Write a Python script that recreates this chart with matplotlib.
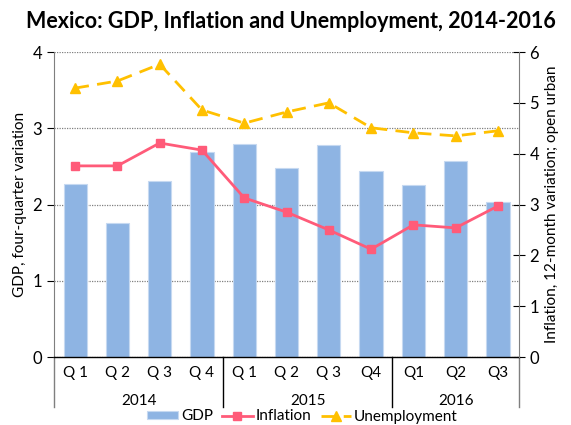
import matplotlib
matplotlib.use("Agg")
import matplotlib.pyplot as plt
import numpy as np

quarters = ["Q 1", "Q 2", "Q 3", "Q 4", "Q 1", "Q 2", "Q 3", "Q4", "Q1", "Q2", "Q3"]
years = ["2014", "2015", "2016"]
year_sizes = [4, 4, 3]
gdp = [2.27, 1.76, 2.31, 2.69, 2.79, 2.48, 2.78, 2.44, 2.26, 2.57, 2.03]
inflation = [3.76, 3.76, 4.21, 4.07, 3.13, 2.85, 2.50, 2.12, 2.60, 2.54, 2.97]
unemployment = [5.29, 5.43, 5.76, 4.86, 4.60, 4.82, 5.00, 4.51, 4.41, 4.35, 4.45]

plt.rcParams["font.family"] = ["Lato", "DejaVu Sans"]

fig = plt.figure(figsize=(5.71, 4.25), dpi=100)
ax = fig.add_axes([0.0946, 0.16, 0.8144, 0.7176])
ax2 = ax.twinx()

x = np.arange(len(quarters))
bars = ax.bar(x, gdp, width=0.55, color="#8EB4E3", edgecolor="#C6D9F1", linewidth=0.8,
              label="GDP", zorder=2)
ax.set_ylim(0, 4)
ax.set_xlim(-0.5, len(quarters) - 0.5)
ax.set_yticks([0, 1, 2, 3, 4])
ax.yaxis.grid(True, linestyle=(0, (1, 1)), color="#808080", linewidth=0.9, zorder=0)
ax.set_axisbelow(True)

l1, = ax2.plot(x, inflation, color="#FF5B79", marker="s", markersize=6, linewidth=2,
               label="Inflation", zorder=3)
l2, = ax2.plot(x, unemployment, color="#FFC000", marker="^", markersize=7, linewidth=2,
               dashes=(5, 3), label="Unemployment", zorder=3)
ax2.set_ylim(0, 6)
ax2.set_yticks([0, 1, 2, 3, 4, 5, 6])

for a in (ax, ax2):
    a.spines["top"].set_visible(False)
    a.spines["bottom"].set_visible(False)
ax.spines["right"].set_visible(False)
ax.spines["left"].set_color("#7F7F7F")
ax2.spines["left"].set_visible(False)
ax2.spines["right"].set_color("#7F7F7F")
ax.tick_params(axis="y", direction="out", length=5, color="#000000", labelsize=12)
ax2.tick_params(axis="y", direction="inout", length=8, color="#000000", labelsize=12)
ax.tick_params(axis="x", length=0, labelbottom=False)

ax.set_ylabel("GDP, four-quarter variation", fontsize=11)
ax2.set_ylabel("Inflation, 12-month variation; open urban", fontsize=11)

# category axis with two levels
trans = ax.get_xaxis_transform()
ax.plot([-0.5, len(quarters) - 0.5], [0, 0], color="#000000", lw=1, transform=trans,
        clip_on=False, zorder=4)
for xi, q in zip(x, quarters):
    ax.text(xi, -0.052, q, transform=trans, ha="center", va="center", fontsize=11)
start = 0
bounds = [-0.5]
for yr, n in zip(years, year_sizes):
    ax.text(start + (n - 1) / 2, -0.145, yr, transform=trans, ha="center", va="center",
            fontsize=11)
    start += n
    bounds.append(start - 0.5)
for i, b in enumerate(bounds):
    ax.plot([b, b], [0, -0.165], color="#000000" if 0 < i < len(bounds) - 1 else "#7F7F7F",
            lw=1, transform=trans, clip_on=False)

fig.legend([bars, l1, l2], ["GDP", "Inflation", "Unemployment"], loc="center",
           bbox_to_anchor=(0.53, 0.02), ncol=3, frameon=False, fontsize=11,
           handlelength=2.0, handleheight=0.5, columnspacing=0.6, handletextpad=0.2)

fig.suptitle("Mexico: GDP, Inflation and Unemployment, 2014-2016", fontsize=15.5,
             fontweight="bold", x=0.51, y=0.975)

fig.savefig("out.png", dpi=100)
